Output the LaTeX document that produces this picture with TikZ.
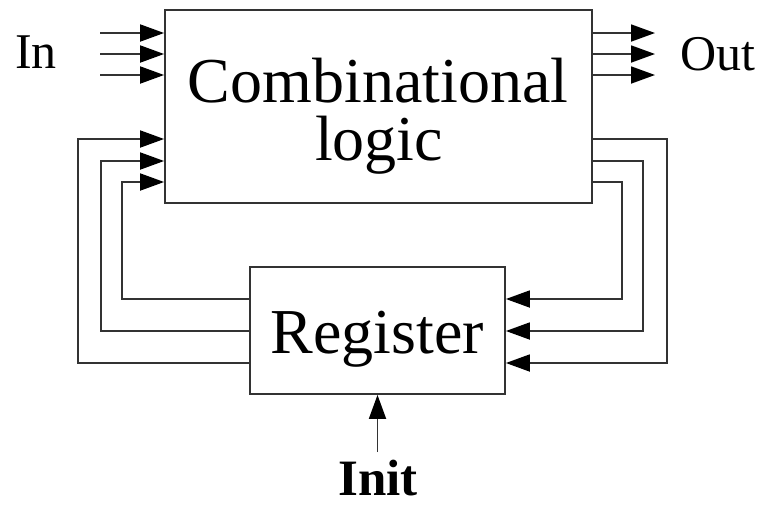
\documentclass[tikz,border=0pt]{standalone}
\usepackage{fontspec}
\setmainfont{Liberation Serif}
\usetikzlibrary{arrows.meta}

\begin{document}
\begin{tikzpicture}[x=1pt, y=-1pt, line width=1.8pt, color=black!80,
  block/.style={draw, rectangle, inner sep=0pt},
  bigtext/.style={text=black, align=center, font=\fontsize{64}{58}\selectfont},
  label/.style={text=black, font=\fontsize{50}{54}\selectfont},
  wire/.style={-{Triangle[length=24pt, width=17pt, color=black]}}]
\useasboundingbox (0, 0) rectangle (763, 507);
\node [block, minimum width=427pt, minimum height=193pt] (comb) at (378.5, 106.5) {};
\node [block, minimum width=255pt, minimum height=127pt] (reg) at (377.5, 330.5) {};
\node [bigtext, anchor=base] (combtext) at (378, 102) {Combinational};
\node [bigtext, anchor=base] (logictext) at (379, 160) {logic};
\node [bigtext, anchor=base] (regtext) at (377.5, 353) {Register};
\node [label, anchor=base] (inlabel) at (36, 68) {In};
\node [label, anchor=base] (outlabel) at (717.5, 70) {Out};
\node [label, anchor=base, font=\fontsize{51}{54}\selectfont\bfseries] (initlabel) at (378, 495) {Init};
\coordinate (in1) at (100, 33);
\coordinate (in2) at (100, 54);
\coordinate (in3) at (100, 75);
\coordinate (out1) at (655, 33);
\coordinate (out2) at (655, 54);
\coordinate (out3) at (655, 75);
\coordinate (initfoot) at (377.5, 452);
\draw [wire] (in1) -- (comb.west |- in1);
\draw [wire] (in2) -- (comb.west |- in2);
\draw [wire] (in3) -- (comb.west |- in3);
\draw [wire] (comb.east |- out1) -- (out1);
\draw [wire] (comb.east |- out2) -- (out2);
\draw [wire] (comb.east |- out3) -- (out3);
\draw [wire] (comb.east |- 0, 139) -| (667, 363) -- (reg.east |- 0, 363);
\draw [wire] (comb.east |- 0, 161) -| (643, 331) -- (reg.east |- 0, 331);
\draw [wire] (comb.east |- 0, 182) -| (622, 299) -- (reg.east |- 0, 299);
\draw [wire] (reg.west |- 0, 363) -| (78, 139) -- (comb.west |- 0, 139);
\draw [wire] (reg.west |- 0, 331) -| (101, 161) -- (comb.west |- 0, 161);
\draw [wire] (reg.west |- 0, 299) -| (122, 182) -- (comb.west |- 0, 182);
\draw [wire] (initfoot) -- (reg.south);
\end{tikzpicture}
\end{document}
